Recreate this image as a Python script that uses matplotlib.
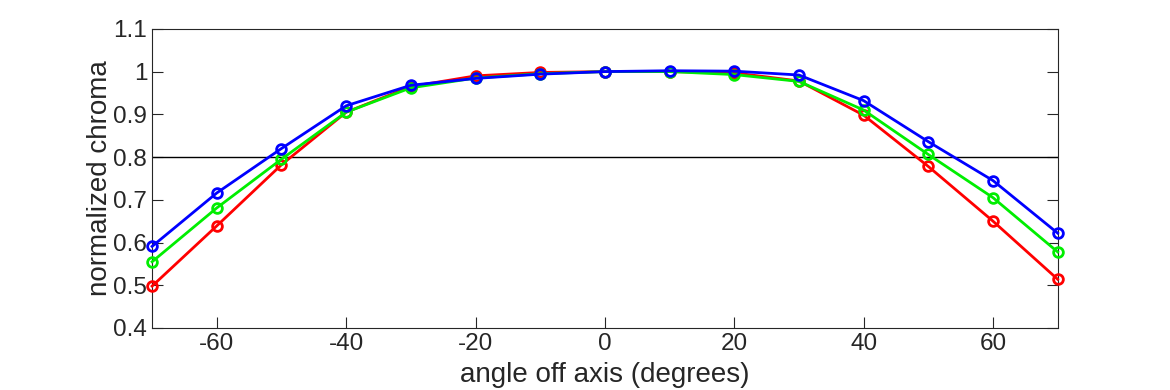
import numpy as np
import matplotlib.pyplot as plt

plt.rcParams['font.family'] = ['Liberation Sans', 'DejaVu Sans']
plt.rcParams['axes.unicode_minus'] = False

# angle off axis (degrees)
angles = [-70, -60, -50, -40, -30, -20, -10, 0, 10, 20, 30, 40, 50, 60, 70]

# normalized chroma per channel
red = [0.498, 0.639, 0.782, 0.905, 0.965, 0.990, 0.998, 1.000, 1.000, 0.997, 0.978, 0.898, 0.778, 0.650, 0.514]
green = [0.555, 0.681, 0.795, 0.905, 0.962, 0.985, 0.995, 1.000, 1.000, 0.993, 0.977, 0.910, 0.806, 0.705, 0.578]
blue = [0.591, 0.716, 0.820, 0.920, 0.968, 0.984, 0.994, 1.000, 1.002, 1.001, 0.992, 0.932, 0.836, 0.745, 0.622]

threshold = 0.8

fig = plt.figure(figsize=(11.7, 3.9), dpi=100)
ax = fig.add_axes([0.13, 0.159, 0.774, 0.767])

for vals, col in [(red, '#ff0000'), (green, '#00ee00'), (blue, '#0000ff')]:
    ax.plot(angles, vals, color=col, lw=2, marker='o', ms=7, mfc='none', mew=2, clip_on=False, zorder=3)

ax.axhline(threshold, color='black', lw=1)

ax.set_xlim(-70, 70)
ax.set_ylim(0.4, 1.1)
ax.set_xticks([-60, -40, -20, 0, 20, 40, 60])
ax.set_yticks([0.4, 0.5, 0.6, 0.7, 0.8, 0.9, 1.0, 1.1])
ax.set_yticklabels(['0.4', '0.5', '0.6', '0.7', '0.8', '0.9', '1', '1.1'])
ax.tick_params(direction='in', length=8, labelsize=17.5, right=True, top=False, colors='#262626')
for s in ax.spines.values():
    s.set_color('#262626')
ax.set_xlabel('angle off axis (degrees)', fontsize=20, color='#262626', labelpad=5)
ax.set_ylabel('normalized chroma', fontsize=20, color='#262626', labelpad=0)

fig.savefig('out.png', dpi=100)
